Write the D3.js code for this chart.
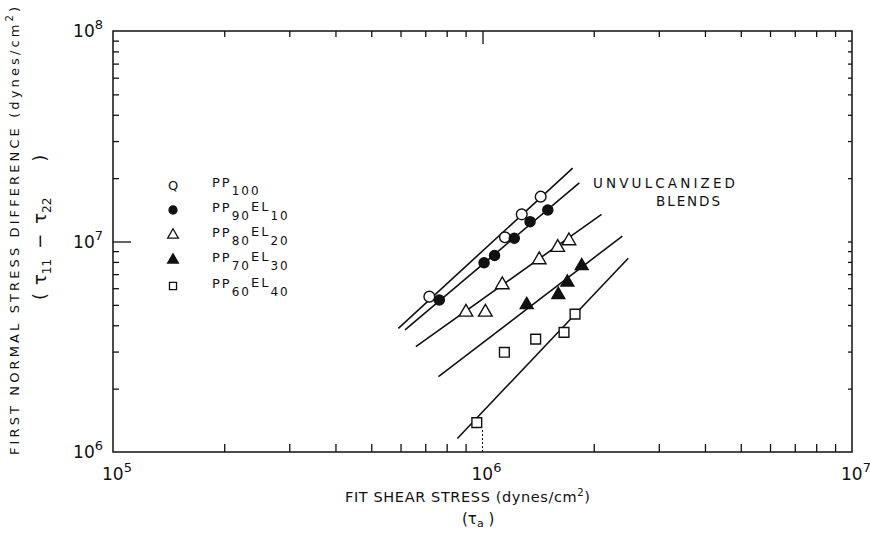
<!DOCTYPE html>
<html>
<head>
<meta charset="utf-8">
<script src="https://cdn.jsdelivr.net/npm/d3@7"></script>
<style>
  body { margin: 0; background: #fff; }
  text { font-family: "DejaVu Sans", sans-serif; fill: #111; }
</style>
</head>
<body>
<svg id="chart" width="870" height="537"></svg>
<script>
// Measured points, shear stress (x) vs first normal stress difference (y), dynes/cm^2
const pp100X = [7.18e5, 1.15e6, 1.277e6, 1.437e6];
const pp100Y = [5.47e6, 1.047e7, 1.346e7, 1.633e7];
const pp90X = [7.64e5, 1.01e6, 1.078e6, 1.219e6, 1.345e6, 1.502e6];
const pp90Y = [5.27e6, 7.93e6, 8.58e6, 1.036e7, 1.242e7, 1.411e7];
const pp80X = [9.02e5, 1.018e6, 1.131e6, 1.424e6, 1.598e6, 1.714e6];
const pp80Y = [4.69e6, 4.69e6, 6.33e6, 8.32e6, 9.52e6, 1.024e7];
const pp70X = [1.317e6, 1.604e6, 1.697e6, 1.856e6];
const pp70Y = [5.09e6, 5.68e6, 6.51e6, 7.78e6];
const pp60X = [9.65e5, 1.146e6, 1.393e6, 1.662e6, 1.780e6];
const pp60Y = [1.378e6, 2.976e6, 3.44e6, 3.70e6, 4.52e6];

// Straight power-law fits: start / end of each line
const fitX = [[5.92e5, 1.754e6], [6.17e5, 1.828e6], [6.6e5, 2.10e6], [7.6e5, 2.39e6], [8.55e5, 2.48e6]];
const fitY = [[3.87e6, 2.23e7], [3.80e6, 1.90e7], [3.17e6, 1.346e7], [2.28e6, 1.061e7], [1.16e6, 8.32e6]];

// Legend entries: [base, sub, second, sub]
const legendNames = [["PP", "100", "", ""], ["PP", "90", "EL", "10"], ["PP", "80", "EL", "20"], ["PP", "70", "EL", "30"], ["PP", "60", "EL", "40"]];
const markerKinds = ["circleOpen", "circleFilled", "triangleOpen", "triangleFilled", "squareOpen"];

const xTickExp = [5, 6, 7];
const yTickExp = [6, 7, 8];

const svg = d3.select("#chart");
const frameL = 113, frameR = 852, frameT = 31, frameB = 452;

const x = d3.scaleLog().domain([1e5, 1e7]).range([frameL, frameR]);
const y = d3.scaleLog().domain([1e6, 1e8]).range([frameB, frameT]);

const minorX = [];
[1e5, 1e6].forEach(d => { for (let k = 2; k <= 9; k++) minorX.push(k * d); });
const minorY = [];
[1e6, 1e7].forEach(d => { for (let k = 2; k <= 9; k++) minorY.push(k * d); });

const ink = "#111";

// Axis ticks, all pointing into the frame
function styleAxis(g) {
  g.select(".domain").remove();
  g.selectAll(".tick line").attr("stroke", ink).attr("stroke-width", 1.3);
  g.selectAll(".tick text").remove();
}
svg.append("g").attr("transform", `translate(0,${frameB})`)
  .call(d3.axisBottom(x).tickValues(minorX).tickSize(-8).tickFormat(""))
  .call(styleAxis);
svg.append("g").attr("transform", `translate(0,${frameT})`)
  .call(d3.axisTop(x).tickValues(minorX).tickSize(-6).tickFormat(""))
  .call(styleAxis);
svg.append("g").attr("transform", `translate(0,${frameT})`)
  .call(d3.axisTop(x).tickValues([1e6]).tickSize(-13).tickFormat(""))
  .call(styleAxis);
svg.append("g").attr("transform", `translate(${frameL},0)`)
  .call(d3.axisLeft(y).tickValues(minorY).tickSize(-6).tickFormat(""))
  .call(styleAxis);
svg.append("g").attr("transform", `translate(${frameL},0)`)
  .call(d3.axisLeft(y).tickValues([1e7]).tickSize(-18).tickFormat(""))
  .call(styleAxis);
svg.append("g").attr("transform", `translate(${frameR},0)`)
  .call(d3.axisRight(y).tickValues(minorY.concat([1e7])).tickSize(-4).tickFormat(""))
  .call(styleAxis);

// dashed major tick at 10^6 on the bottom edge
svg.append("line")
  .attr("x1", x(1e6)).attr("x2", x(1e6))
  .attr("y1", frameB).attr("y2", frameB - 24)
  .attr("stroke", ink).attr("stroke-width", 1)
  .attr("stroke-dasharray", "2,2");

// frame
svg.append("rect")
  .attr("x", frameL).attr("y", frameT)
  .attr("width", frameR - frameL).attr("height", frameB - frameT)
  .attr("fill", "none").attr("stroke", ink).attr("stroke-width", 1.5);

// tick labels as powers of ten
function powerLabel(px, py, exp, anchor) {
  const t = svg.append("text").attr("x", px).attr("y", py)
    .attr("text-anchor", anchor).attr("font-size", 17);
  t.append("tspan").text("10");
  t.append("tspan").attr("dy", -8).attr("font-size", 13).text(exp);
}
xTickExp.forEach(e => powerLabel(x(Math.pow(10, e)) + 4, frameB + 28, e, "middle"));
yTickExp.forEach(e => powerLabel(frameL - 10, y(Math.pow(10, e)) + 6, e, "end"));

// fitted lines
const lineGen = d3.line().x(d => x(d[0])).y(d => y(d[1]));
fitX.forEach((xs, i) => {
  svg.append("path")
    .attr("d", lineGen(xs.map((v, j) => [v, fitY[i][j]])))
    .attr("fill", "none").attr("stroke", ink).attr("stroke-width", 1.6);
});

// markers
function marker(kind, size) {
  const open = kind.endsWith("Open");
  let type = d3.symbolCircle;
  if (kind.startsWith("triangle")) type = d3.symbolTriangle;
  if (kind.startsWith("square")) type = d3.symbolSquare;
  return { path: d3.symbol().type(type).size(size)(), open };
}
const seriesX = [pp100X, pp90X, pp80X, pp70X, pp60X];
const seriesY = [pp100Y, pp90Y, pp80Y, pp70Y, pp60Y];
const sizes = [90, 80, 80, 72, 95];
seriesX.forEach((xs, i) => {
  const m = marker(markerKinds[i], sizes[i]);
  const dyOff = markerKinds[i].startsWith("triangle") ? 1.5 : 0;
  svg.append("g").selectAll("path")
    .data(xs.map((v, j) => [v, seriesY[i][j]]))
    .join("path")
    .attr("d", m.path)
    .attr("transform", d => `translate(${x(d[0])},${y(d[1]) + dyOff})`)
    .attr("fill", m.open ? "#fff" : ink)
    .attr("stroke", ink).attr("stroke-width", 1.4);
});

// legend
const legY = [185, 210, 235, 260, 286];
legendNames.forEach((n, i) => {
  if (i === 0) {
    svg.append("text").attr("x", 173).attr("y", legY[i] + 5)
      .attr("text-anchor", "middle").attr("font-size", 13).text("Q");
  } else {
    const m = marker(markerKinds[i], 50);
    svg.append("path").attr("d", m.path)
      .attr("transform", `translate(173,${legY[i]})`)
      .attr("fill", m.open ? "#fff" : ink)
      .attr("stroke", ink).attr("stroke-width", 1.3);
  }
  const t = svg.append("text").attr("x", 212).attr("y", legY[i] + 2)
    .attr("font-size", 13).attr("letter-spacing", 2);
  t.append("tspan").text(n[0]);
  t.append("tspan").attr("dy", 8).attr("font-size", 12).text(n[1]);
  if (n[2]) {
    t.append("tspan").attr("dy", -9).text(n[2]);
    t.append("tspan").attr("dy", 9).attr("font-size", 12).text(n[3]);
  }
});

// annotation
svg.append("text").attr("x", 593).attr("y", 188).attr("font-size", 13.5)
  .attr("textLength", 142).attr("lengthAdjust", "spacing").text("UNVULCANIZED");
svg.append("text").attr("x", 656).attr("y", 206).attr("font-size", 13.5)
  .attr("textLength", 64).attr("lengthAdjust", "spacing").text("BLENDS");

// axis titles
const xt = svg.append("text").attr("x", 345).attr("y", 502).attr("font-size", 14.5)
  .attr("textLength", 245).attr("lengthAdjust", "spacing");
xt.append("tspan").text("FIT  SHEAR  STRESS (dynes/cm");
xt.append("tspan").attr("dy", -6).attr("font-size", 10).text("2");
xt.append("tspan").attr("dy", 6).text(")");

const xt2 = svg.append("text").attr("x", 462).attr("y", 524).attr("font-size", 15);
xt2.append("tspan").text("(τ");
xt2.append("tspan").attr("dy", 3).attr("font-size", 11).text("a");
xt2.append("tspan").attr("dy", -3).text(" )");

const yt = svg.append("text")
  .attr("transform", "translate(19,455) rotate(-90)")
  .attr("font-size", 13).attr("textLength", 448).attr("lengthAdjust", "spacing");
yt.append("tspan").text("FIRST NORMAL STRESS DIFFERENCE (dynes/cm");
yt.append("tspan").attr("dy", -6).attr("font-size", 10).text("2");
yt.append("tspan").attr("dy", 6).text(")");

// second title line: (tau11 - tau22)
const yt2 = svg.append("text")
  .attr("transform", "translate(46,300) rotate(-90)")
  .attr("font-size", 18);
yt2.append("tspan").text("(");
yt2.append("tspan").attr("dx", 8).text("τ");
yt2.append("tspan").attr("dy", 5).attr("font-size", 12).text("11");
yt2.append("tspan").attr("dy", -5).attr("dx", 10).text("−");
yt2.append("tspan").attr("dx", 10).text("τ");
yt2.append("tspan").attr("dy", 5).attr("font-size", 12).text("22");
yt2.append("tspan").attr("dy", -5).attr("dx", 36).text(")");
</script>
</body>
</html>
